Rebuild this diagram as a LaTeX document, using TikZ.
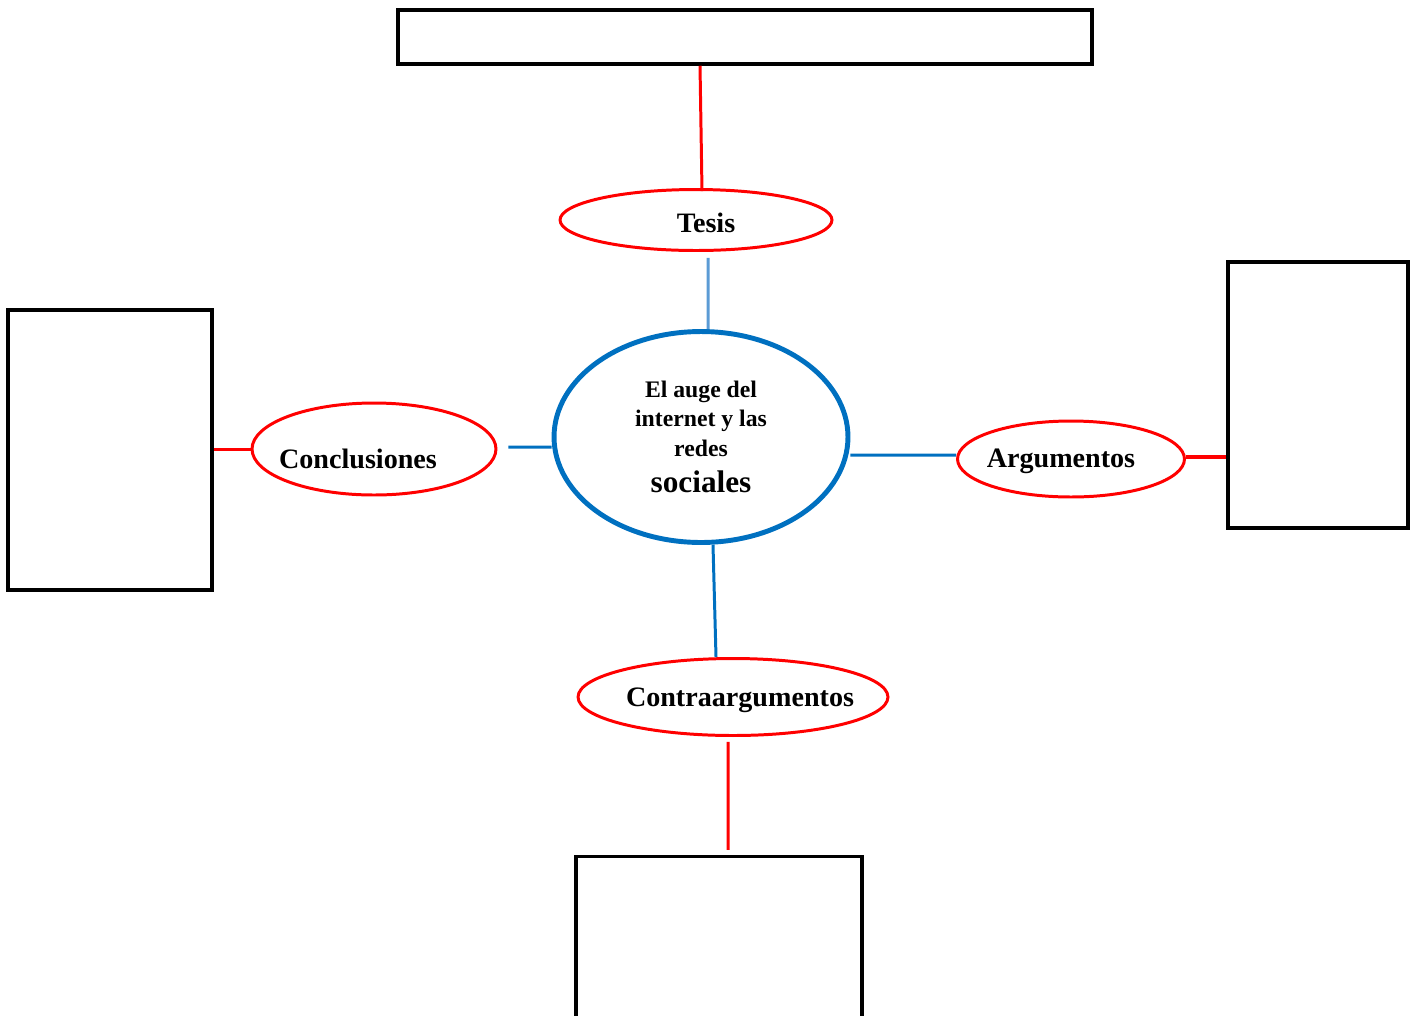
\documentclass[tikz,border=0pt]{standalone}
\usepackage{fontspec}
\setmainfont{Liberation Serif}
\usetikzlibrary{shapes.geometric}
\definecolor{rojo}{HTML}{FF0000}
\definecolor{azul}{HTML}{0070C0}
\definecolor{azulclaro}{HTML}{5B9BD5}
\tikzset{
  caja/.style={draw=black,line width=2pt,rectangle,inner sep=0pt},
  elip/.style={draw=rojo,line width=1.7pt,ellipse,inner sep=0pt},
  etiq/.style={font=\fontsize{16}{19}\selectfont\bfseries,text=black},
  rojolin/.style={draw=rojo,line width=1.7pt},
  azullin/.style={draw=azul,line width=1.7pt}
}
\begin{document}
\begin{tikzpicture}[x=0.02cm,y=-0.02cm]
\useasboundingbox (0,0) rectangle (1413,1015);
\clip (0,0) rectangle (1413,1015);

% cajas
\node[caja,minimum width=13.88cm,minimum height=1.08cm] (arriba) at (745,37) {};
\node[caja,minimum width=4.08cm,minimum height=5.6cm] (izq) at (110,450) {};
\node[caja,minimum width=3.6cm,minimum height=5.32cm] (der) at (1318,395) {};
\node[caja,minimum width=5.72cm,minimum height=3.66cm] (abajo) at (719,948) {};

% centro
\node[draw=azul,line width=2.8pt,ellipse,inner sep=0pt,
      minimum width=5.88cm,minimum height=4.22cm,align=center,
      font=\fontsize{13.5}{16.7}\selectfont\bfseries] (centro) at (701,437)
  {El auge del\\internet y las\\redes\\[4pt]{\fontsize{17.8}{20}\selectfont sociales}};

% elipses
\node[elip,minimum width=5.44cm,minimum height=1.22cm,
      label={[etiq,shift={(0.2cm,-0.05cm)}]center:Tesis}] (tesis) at (696,220) {};
\node[elip,minimum width=4.88cm,minimum height=1.84cm,
      label={[etiq,shift={(-0.32cm,-0.2cm)}]center:Conclusiones}] (concl) at (374,449) {};
\node[elip,minimum width=4.54cm,minimum height=1.52cm,
      label={[etiq,shift={(-0.2cm,-0.04cm)}]center:Argumentos}] (argum) at (1071,459) {};
\node[elip,minimum width=6.2cm,minimum height=1.54cm,
      label={[etiq,shift={(0.14cm,-0.06cm)}]center:Contraargumentos}] (contra) at (733,697) {};

% conectores
\draw[rojolin] ([xshift=-0.9cm]arriba.south) -- ([xshift=0.12cm,yshift=-0.06cm]tesis.north);
\draw[draw=azulclaro,line width=1.7pt] ([xshift=0.24cm,yshift=-0.12cm]tesis.south) -- ([xshift=0.14cm]centro.north);
\draw[rojolin] (izq.east |- concl.west) -- (concl.west);
\draw[azullin] ([xshift=0.22cm,yshift=0.04cm]concl.east) -- ([yshift=-0.2cm]centro.west);
\draw[azullin] ([yshift=-0.36cm]centro.east) -- ([yshift=0.08cm]argum.west);
\draw[rojolin,line width=2.8pt] ([yshift=0.04cm]argum.east) -- ([yshift=0.04cm]argum.east -| der.west);
\draw[azullin] ([xshift=0.24cm]centro.south) -- ([xshift=-0.34cm]contra.north);
\draw[rojolin] ([xshift=-0.1cm,yshift=-0.1cm]contra.south) -- ([xshift=0.18cm,yshift=0.1cm]abajo.north);
\end{tikzpicture}
\end{document}
